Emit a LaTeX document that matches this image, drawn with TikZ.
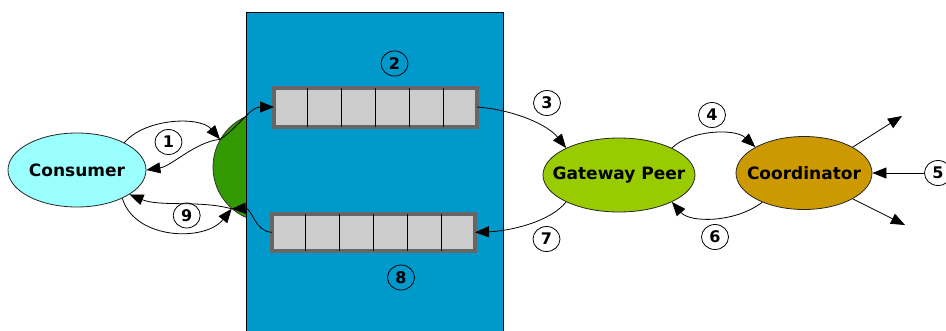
\documentclass[tikz,border=0pt]{standalone}
\usepackage{fontspec}
\setmainfont{DejaVu Sans}
\usetikzlibrary{shapes.geometric,arrows.meta,calc}

\definecolor{panelblue}{HTML}{0099CC}
\definecolor{consumerfill}{HTML}{99FFFF}
\definecolor{gatewayfill}{HTML}{99CC00}
\definecolor{coordfill}{HTML}{CC9900}
\definecolor{hubfill}{HTML}{339900}
\definecolor{queuefill}{HTML}{CCCCCC}
\definecolor{queueedge}{HTML}{666666}

\tikzset{
  peer/.style={ellipse, draw=black!85, line width=0.8pt, inner sep=0pt},
  peer name/.style={font=\fontsize{17}{20}\selectfont\bfseries},
  queue/.style={rectangle, draw=queueedge, fill=queuefill, line width=4pt,
    outer sep=0pt, inner sep=0pt, minimum width=203pt},
  divider/.style={draw=black, line width=1.1pt},
  step label/.style={ellipse, draw=black, line width=0.8pt, inner sep=0pt,
    minimum width=27pt, minimum height=25pt,
    font=\fontsize{16}{18}\selectfont\bfseries},
  flow/.style={draw=black, line width=0.8pt,
    -{Triangle[length=14pt,width=11pt]}},
}

\begin{document}
\begin{tikzpicture}[x=1pt,y=-1pt]
\useasboundingbox (0,0) rectangle (946,330);

% entry point half hidden behind the broker panel
\node[circle, draw=black!80, line width=0.8pt, fill=hubfill,
      minimum size=110pt, inner sep=0pt] (hub) at (268,167) {};

% broker panel
\node[rectangle, draw=black, line width=1pt, fill=panelblue,
      minimum width=257pt, minimum height=330pt, inner sep=0pt]
      (panel) at (374.5,177) {};

% request and reply queues
\node[queue, minimum height=39pt] (qtop) at (375.5,107) {};
\node[queue, minimum height=37pt] (qbot) at (373.5,232.3) {};
\foreach \q in {qtop,qbot}
  \foreach \k in {1,...,5}
    \draw[divider] ($(\q.north west)!\k/6!(\q.north east)$)
                -- ($(\q.south west)!\k/6!(\q.south east)$);

% peers
\node[peer, fill=consumerfill, minimum width=138pt, minimum height=74pt,
      label={[peer name]center:Consumer}] (cons) at (77,170) {};
\node[peer, fill=gatewayfill, minimum width=152pt, minimum height=74pt,
      label={[peer name]center:Gateway Peer}] (gw) at (619,175) {};
\node[peer, fill=coordfill, minimum width=136pt, minimum height=73pt,
      label={[peer name]center:Coordinator}] (coord) at (804,173) {};

% step numbers
\node[step label] (s1) at (168.5,142) {1};
\node[step label] (s2) at (394.5,63.5) {2};
\node[step label] (s3) at (547,103) {3};
\node[step label] (s4) at (712,115) {4};
\node[step label] (s5) at (938,173) {5};
\node[step label] (s6) at (715,237) {6};
\node[step label] (s7) at (546.5,239) {7};
\node[step label] (s8) at (401,277.5) {8};
\node[step label] (s9) at (186.7,215.5) {9};

% loose ends leaving the coordinator
\coordinate (outA) at (902,116);
\coordinate (outB) at (905,225);

% message flow
\draw[flow] (cons.30) .. controls (145,118) and (200,116) .. (hub.150);
\draw[flow] (hub.150) .. controls (195,142) and (172,166) .. (cons.east);
\draw[flow] (hub.150) .. controls (238,128) and (250,107) .. (qtop.west);
\draw[flow] (qtop.east) .. controls (515,110) and (548,125) .. (gw.153);
\draw[flow] (gw.27) .. controls (690,130) and (735,128) .. (coord.152);
\draw[flow] (s5) -- (coord.east);
\draw[flow] (coord.28) -- (outA);
\draw[flow] (coord.-28) -- (outB);
\draw[flow] (coord.-145) .. controls (735,223) and (690,223) .. (gw.-27);
\draw[flow] (gw.-153) .. controls (550,222) and (510,231) .. (qbot.east);
\draw[flow] (qbot.west) .. controls (255,232) and (252,208) .. (hub.-131);
\draw[flow] (hub.-131) .. controls (200,200) and (160,207) .. (cons.-25);
\draw[flow] (cons.-32) .. controls (135,240) and (205,242) .. (hub.-131);

\end{tikzpicture}
\end{document}
